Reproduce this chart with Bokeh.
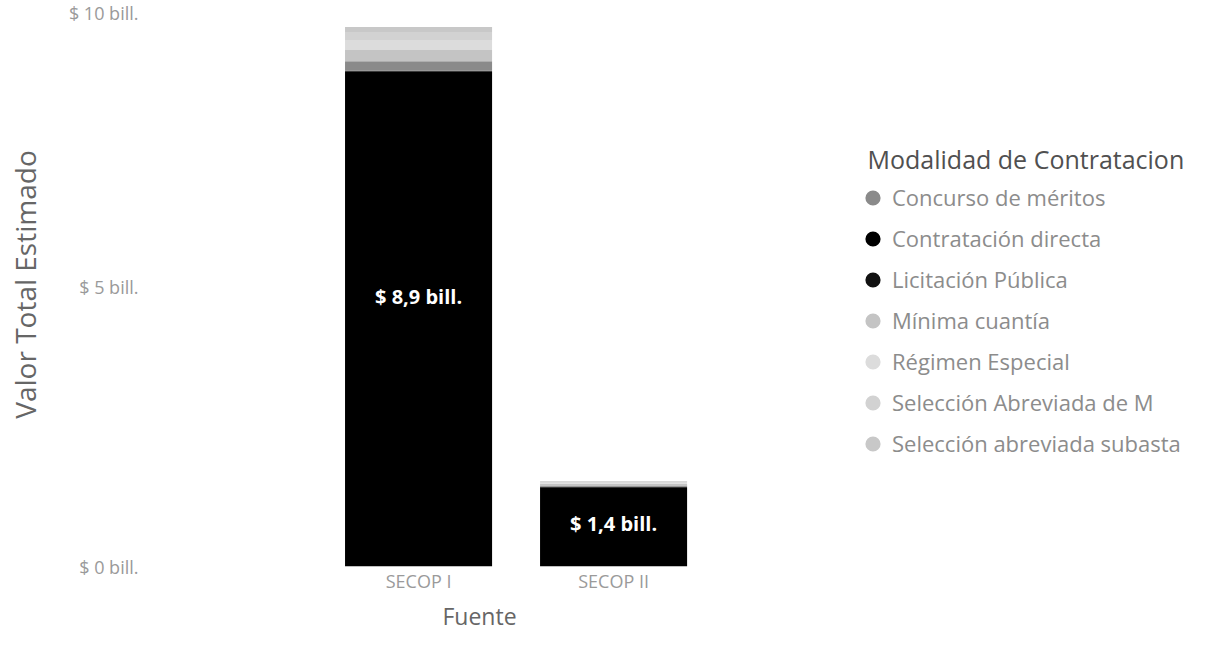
from bokeh.plotting import figure
from bokeh.layouts import row
from bokeh.models import (ColumnDataSource, Legend, LegendItem, Range1d, FixedTicker, Label)
from bokeh.embed import file_html
from bokeh.resources import INLINE
from bokeh.core.properties import value

# ---------------- data ----------------
fuentes = ["SECOP I", "SECOP II"]
modalidades = [
    "Concurso de méritos",
    "Contratación directa",
    "Licitación Pública",
    "Mínima cuantía",
    "Régimen Especial",
    "Selección Abreviada de M",
    "Selección abreviada subasta",
]
# values in billones of pesos, per fuente
concurso_meritos = [0.17, 0.02]
contratacion_directa = [8.86, 1.42]
licitacion_publica = [0.02, 0.01]
minima_cuantia = [0.20, 0.03]
regimen_especial = [0.18, 0.02]
seleccion_menor = [0.14, 0.02]
seleccion_subasta = [0.09, 0.01]

y_ticks = [0, 5, 10]
y_tick_labels = ["$ 0 bill.", "$ 5 bill.", "$ 10 bill."]

colores = ["#8a8a8a", "#000000", "#111111", "#c4c4c4", "#dcdcdc", "#d2d2d2", "#c8c8c8"]

series = [concurso_meritos, contratacion_directa, licitacion_publica, minima_cuantia,
          regimen_especial, seleccion_menor, seleccion_subasta]
# stacking order bottom-up (index into modalidades)
stack_order = [1, 2, 0, 3, 4, 5, 6]

FONT = "Open Sans"

xs = list(range(len(fuentes)))
data = {"x": xs}
keys = []
for i in stack_order:
    k = f"s{i}"
    keys.append(k)
    data[k] = series[i]
totals = [sum(s[j] for s in series) for j in xs]
data["tot"] = totals
data["ly"] = [t / 2 for t in totals]
data["lbl"] = ["$ " + f"{v:.1f}".replace(".", ",") + " bill." for v in contratacion_directa]
src = ColumnDataSource(data)

# ---------------- chart ----------------
p = figure(width=812, height=634, output_backend="svg", toolbar_location=None,
           x_range=Range1d(-1.395, 2.02), y_range=Range1d(0, 10.1),
           min_border_left=146, min_border_right=0, min_border_top=2,
           min_border_bottom=0)

p.vbar_stack(keys, x="x", width=0.754, source=src,
             fill_color=[colores[i] for i in stack_order],
             line_color=None)

p.text(x="x", y="ly", text="lbl", source=src, text_color="white",
       text_font=value(FONT), text_font_style="bold", text_font_size="20px",
       text_align="center", text_baseline="middle")

p.xaxis.ticker = FixedTicker(ticks=xs)
p.xaxis.major_label_overrides = {i: f for i, f in enumerate(fuentes)}
p.yaxis.ticker = FixedTicker(ticks=y_ticks)
p.yaxis.major_label_overrides = {t: l for t, l in zip(y_ticks, y_tick_labels)}
for ax in (p.xaxis[0], p.yaxis[0]):
    ax.axis_line_color = None
    ax.major_tick_line_color = None
    ax.minor_tick_line_color = None
    ax.major_tick_out = 0
    ax.minor_tick_out = 0
    ax.major_tick_in = 0
    ax.minor_tick_in = 0
    ax.major_label_text_font = FONT
    ax.major_label_text_color = "#9a9a9a"
    ax.major_label_text_font_size = "18px"
    ax.axis_label_text_font = FONT
    ax.axis_label_text_font_style = "normal"
    ax.axis_label_text_color = "#666666"
p.xaxis.axis_label = "Fuente"
p.xaxis.axis_label_text_font_size = "23px"
p.yaxis.axis_label = "Valor Total Estimado"
p.yaxis.axis_label_text_font_size = "28px"
p.xaxis.major_label_standoff = 2
p.xaxis.axis_label_standoff = 4
p.yaxis.major_label_standoff = 8
p.yaxis.axis_label_standoff = 22
p.xgrid.visible = False
p.ygrid.visible = False
p.outline_line_color = None

# ---------------- legend panel ----------------
q = figure(width=384, height=634, output_backend="svg", toolbar_location=None,
           x_range=Range1d(20, 21), y_range=Range1d(20, 21),
           min_border_left=0, min_border_right=0, min_border_top=0, min_border_bottom=0)
q.axis.visible = False
q.grid.visible = False
q.outline_line_color = None

q.add_layout(Label(x=55, y=408, x_units="screen", y_units="screen",
                   text="Modalidad de Contratacion", text_font=FONT,
                   text_font_size="25px", text_color="#505050",
                   text_align="left", text_baseline="middle"))

# legend glyph renderers: their data lie outside this panel's ranges, so only
# the legend shows them
items = []
for name, col in zip(modalidades, colores):
    r = q.ellipse(x="x", y="tot", width=15, height=15, width_units="screen",
                  height_units="screen", source=src, fill_color=col, line_color=None)
    items.append(LegendItem(label=name, renderers=[r]))
legend = Legend(items=items, location=(51, 108), orientation="vertical")
legend.label_text_font = FONT
legend.label_text_font_size = "22px"
legend.label_text_color = "#8c8c8c"
legend.glyph_width = 19
legend.glyph_height = 19
legend.label_height = 30
legend.label_standoff = 10
legend.spacing = 11
legend.padding = 10
legend.margin = 0
legend.border_line_color = None
legend.background_fill_alpha = 0
q.add_layout(legend, "center")

layout = row(p, q)
open("out.html", "w").write(file_html(layout, INLINE))
